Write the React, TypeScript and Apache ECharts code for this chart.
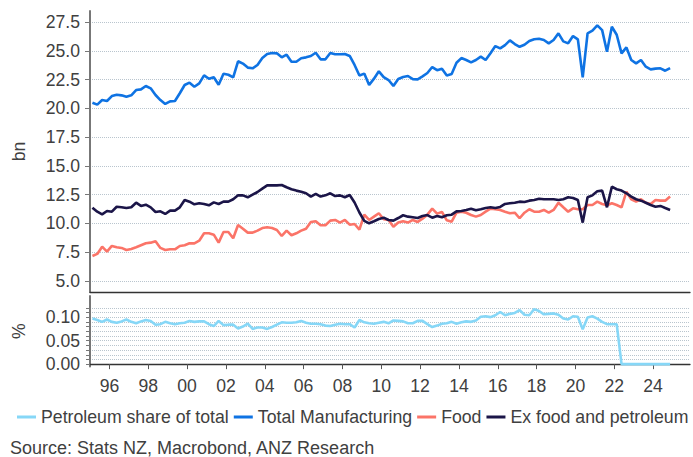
import React, { useEffect, useRef } from "react";
import * as echarts from "echarts";

// Quarterly data, 1995Q1 .. 2024Q4
const START_YEAR = 1995;

const totalManufacturing = [
  20.49, 20.32, 20.72, 20.64, 21.07, 21.18, 21.13, 21.01, 21.13, 21.59,
  21.65, 21.94, 21.74, 21.16, 20.72, 20.38, 20.61, 20.64, 21.31, 22.03,
  22.23, 21.88, 22.17, 22.87, 22.57, 22.70, 22.05, 23.01, 22.92, 22.70,
  24.09, 23.89, 23.54, 23.48, 23.77, 24.37, 24.72, 24.81, 24.78, 24.43,
  24.66, 24.05, 24.05, 24.35, 24.43, 24.55, 24.83, 24.26, 24.26, 24.81,
  24.70, 24.70, 24.72, 24.55, 23.77, 22.85, 23.02, 22.03, 22.58, 23.22,
  22.72, 22.46, 21.95, 22.55, 22.72, 22.81, 22.54, 22.52, 22.78, 23.07,
  23.59, 23.32, 23.45, 22.86, 22.98, 23.96, 24.37, 24.20, 24.00, 24.20,
  24.49, 24.20, 24.78, 25.41, 25.21, 25.50, 25.91, 25.59, 25.35, 25.53,
  25.85, 26.00, 26.05, 25.94, 25.65, 25.94, 26.52, 25.82, 25.65, 26.28,
  26.00, 22.70, 26.52, 26.75, 27.21, 26.80, 24.92, 27.09, 26.40, 24.78,
  25.30, 24.20, 23.91, 24.20, 23.62, 23.39, 23.45, 23.48, 23.27, 23.50,
];

const food = [
  7.17, 7.35, 7.98, 7.55, 8.04, 7.93, 7.87, 7.69, 7.78, 7.93,
  8.10, 8.27, 8.33, 8.45, 7.87, 7.69, 7.75, 7.75, 8.04, 8.10,
  8.27, 8.27, 8.50, 9.14, 9.14, 9.02, 8.33, 9.26, 9.26, 8.71,
  9.86, 9.54, 9.20, 9.20, 9.37, 9.60, 9.66, 9.60, 9.43, 8.91,
  9.37, 8.97, 9.14, 9.37, 9.54, 10.13, 10.19, 9.84, 9.84, 10.24,
  10.30, 10.07, 10.30, 9.89, 9.95, 9.46, 10.76, 10.30, 10.59, 10.88,
  10.36, 10.30, 9.72, 10.07, 10.19, 10.07, 10.30, 10.13, 10.41, 10.76,
  11.28, 10.85, 11.00, 10.27, 10.15, 10.93, 11.02, 10.93, 10.73, 10.59,
  10.73, 11.02, 11.28, 11.23, 11.17, 11.02, 10.88, 10.93, 10.45, 10.93,
  11.23, 11.02, 11.02, 11.17, 10.93, 11.17, 11.80, 11.40, 11.02, 11.31,
  11.23, 11.23, 11.60, 11.60, 11.89, 11.69, 11.57, 11.75, 11.60, 11.40,
  12.76, 12.10, 11.89, 12.10, 11.80, 11.69, 12.04, 11.98, 11.98, 12.33,
];

const exFoodPetroleum = [
  11.37, 11.02, 10.79, 11.08, 11.02, 11.45, 11.40, 11.34, 11.40, 11.80,
  11.52, 11.63, 11.40, 10.99, 11.05, 10.82, 11.11, 11.11, 11.40, 12.04,
  11.89, 11.66, 11.75, 11.69, 11.57, 11.83, 11.69, 11.89, 11.89, 12.10,
  12.44, 12.44, 12.27, 12.50, 12.73, 13.02, 13.31, 13.31, 13.31, 13.34,
  13.14, 12.97, 12.85, 12.76, 12.62, 12.33, 12.56, 12.33, 12.44, 12.62,
  12.38, 12.44, 12.27, 12.47, 11.82, 10.95, 10.22, 10.01, 10.19, 10.38,
  10.50, 10.30, 10.24, 10.47, 10.71, 10.59, 10.53, 10.47, 10.65, 10.73,
  10.50, 10.65, 10.53, 10.71, 10.76, 11.05, 11.08, 11.17, 11.28, 11.14,
  11.23, 11.34, 11.40, 11.34, 11.43, 11.69, 11.75, 11.80, 11.89, 11.86,
  11.98, 12.04, 12.15, 12.10, 12.10, 12.10, 12.04, 12.10, 12.27, 12.21,
  12.04, 10.07, 12.27, 12.44, 12.79, 12.85, 11.40, 13.19, 12.97, 12.85,
  12.62, 12.33, 12.10, 11.98, 11.80, 11.60, 11.45, 11.52, 11.34, 11.17,
];

const petroleumShare = [
  0.097, 0.094, 0.090, 0.095, 0.090, 0.088, 0.091, 0.095, 0.090, 0.087,
  0.091, 0.094, 0.092, 0.084, 0.085, 0.090, 0.087, 0.085, 0.087, 0.088,
  0.092, 0.090, 0.091, 0.091, 0.085, 0.081, 0.092, 0.083, 0.084, 0.084,
  0.076, 0.080, 0.086, 0.075, 0.078, 0.078, 0.075, 0.079, 0.084, 0.089,
  0.088, 0.088, 0.089, 0.092, 0.088, 0.086, 0.086, 0.085, 0.082, 0.081,
  0.084, 0.086, 0.085, 0.085, 0.078, 0.094, 0.089, 0.087, 0.086, 0.088,
  0.090, 0.087, 0.093, 0.092, 0.091, 0.087, 0.087, 0.092, 0.092, 0.085,
  0.079, 0.082, 0.086, 0.087, 0.090, 0.086, 0.089, 0.091, 0.090, 0.093,
  0.101, 0.102, 0.100, 0.104, 0.111, 0.104, 0.107, 0.109, 0.115, 0.105,
  0.104, 0.117, 0.113, 0.106, 0.107, 0.108, 0.105, 0.097, 0.095, 0.102,
  0.101, 0.074, 0.099, 0.102, 0.097, 0.090, 0.085, 0.085, 0.085, 0.000,
  0.000, 0.000, 0.000, 0.000, 0.000, 0.000, 0.000, 0.000, 0.000, 0.000,
];

const seriesNames = [
  "Petroleum share of total",
  "Total Manufacturing",
  "Food",
  "Ex food and petroleum",
];

const yearTicks = [1996, 1998, 2000, 2002, 2004, 2006, 2008, 2010, 2012, 2014, 2016, 2018, 2020, 2022, 2024];
const topTicks = [5, 7.5, 10, 12.5, 15, 17.5, 20, 22.5, 25, 27.5];
const bottomLabelTicks = [0, 0.05, 0.1];
const bottomGridTicks = [0, 0.01, 0.02, 0.03, 0.04, 0.05, 0.06, 0.07, 0.08, 0.09, 0.1, 0.11, 0.12];

const sourceText = "Source: Stats NZ, Macrobond, ANZ Research";

const FONT = "'Liberation Sans', Arial, Helvetica, sans-serif";
const TEXT_COLOR = "#404040";
const GRID_COLOR = "#b9c5ce";
const COLORS = ["#86d7f7", "#0f73e3", "#fb7468", "#1b1548"];

const quarterTimes = totalManufacturing.map((_, i) => START_YEAR + (i + 0.5) / 4);
const pair = (arr: number[]) => arr.map((v, i) => [quarterTimes[i], v]);

export default function App() {
  const ref = useRef<HTMLDivElement>(null);

  useEffect(() => {
    if (!ref.current) return;
    const chart = echarts.init(ref.current, undefined, { renderer: "svg" });

    const xCommon = {
      type: "value" as const,
      min: 1995,
      max: 2025.9,
      splitLine: { show: false },
    };

    const lineSeries = (name: string, data: number[], color: string, grid: number) => ({
      name,
      type: "line",
      xAxisIndex: grid,
      yAxisIndex: grid,
      data: pair(data),
      showSymbol: false,
      symbol: "none",
      lineStyle: { width: 2.6, color },
      itemStyle: { color },
      z: 3,
    });

    chart.setOption({
      animation: false,
      textStyle: { fontFamily: FONT },
      grid: [
        { left: 90, right: 3, top: 11, height: 281 },
        { left: 90, right: 3, top: 296, height: 70.5 },
      ],
      xAxis: [
        {
          ...xCommon,
          gridIndex: 0,
          axisLine: { show: true, lineStyle: { color: "#333", width: 1.3 } },
          axisTick: { show: false },
          axisLabel: { show: false },
        },
        {
          ...xCommon,
          gridIndex: 1,
          axisLine: { show: true, lineStyle: { color: "#333", width: 1.3 } },
          axisTick: { show: true, length: 5, customValues: yearTicks, lineStyle: { color: "#555" } },
          axisLabel: {
            show: true,
            customValues: yearTicks,
            formatter: (v: number) => String(Math.round(v) % 100).padStart(2, "0"),
            fontSize: 17.6,
            color: TEXT_COLOR,
            margin: 10,
          },
        },
      ],
      yAxis: [
        {
          type: "value",
          gridIndex: 0,
          min: 4.04,
          max: 28.46,
          name: "bn",
          nameLocation: "middle",
          nameGap: 62,
          nameTextStyle: { fontSize: 17.6, color: TEXT_COLOR },
          axisLine: { show: true, lineStyle: { color: "#777", width: 2 } },
          axisTick: { show: true, length: 5, customValues: topTicks, lineStyle: { color: "#777" } },
          axisLabel: {
            customValues: topTicks,
            formatter: (v: number) => v.toFixed(1),
            fontSize: 17.6,
            color: TEXT_COLOR,
            margin: 10,
          },
          splitLine: { show: true, lineStyle: { color: GRID_COLOR, type: "dotted", width: 1 } },
        },
        {
          type: "value",
          gridIndex: 1,
          min: -0.005,
          max: 0.145,
          name: "%",
          nameLocation: "middle",
          nameGap: 62,
          nameTextStyle: { fontSize: 17.6, color: TEXT_COLOR },
          axisLine: { show: true, lineStyle: { color: "#777", width: 2 } },
          axisTick: { show: true, length: 4, customValues: bottomGridTicks, lineStyle: { color: "#777" } },
          axisLabel: {
            customValues: bottomLabelTicks,
            formatter: (v: number) => v.toFixed(2),
            fontSize: 17.6,
            color: TEXT_COLOR,
            margin: 10,
          },
          splitLine: { show: true, lineStyle: { color: GRID_COLOR, type: "dotted", width: 1 } },
        },
      ],
      legend: {
        left: 17,
        top: 408,
        width: 720,
        padding: 0,
        icon: "rect",
        itemWidth: 19,
        itemHeight: 3,
        itemGap: 5,
        textStyle: { fontSize: 17.7, color: TEXT_COLOR, fontFamily: FONT },
        data: seriesNames,
      },
      graphic: [
        {
          type: "text",
          left: 10,
          top: 439,
          style: { text: sourceText, fontSize: 18, fill: TEXT_COLOR, fontFamily: FONT },
        },
      ],
      series: [
        lineSeries(seriesNames[0], petroleumShare, COLORS[0], 1),
        lineSeries(seriesNames[1], totalManufacturing, COLORS[1], 0),
        lineSeries(seriesNames[2], food, COLORS[2], 0),
        lineSeries(seriesNames[3], exFoodPetroleum, COLORS[3], 0),
      ],
    });

    return () => chart.dispose();
  }, []);

  return (
    <div
      ref={ref}
      style={{ position: "fixed", left: 0, top: 0, width: 693, height: 457, background: "#fff" }}
    />
  );
}
